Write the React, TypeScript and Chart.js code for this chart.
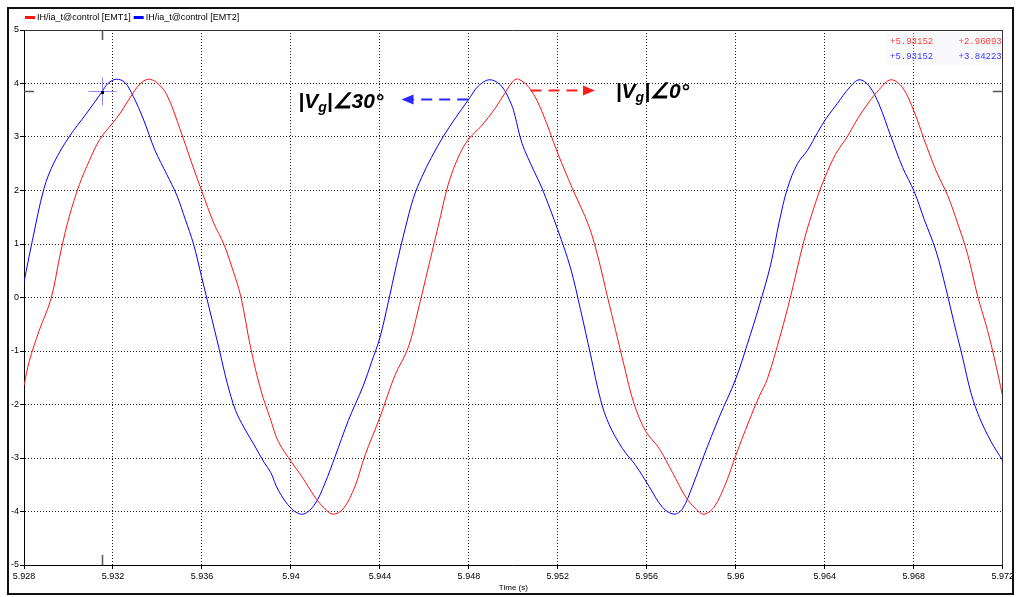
import React, { useEffect, useRef } from "react";
import { Chart, registerables } from "chart.js";

Chart.register(...registerables);

const SERIES_LABELS = ["IH/ia_t@control [EMT1]", "IH/ia_t@control [EMT2]"];
const SERIES_COLORS = ["rgb(255,20,20)", "rgb(0,0,255)"];

const X_TICKS = [5.928, 5.932, 5.936, 5.94, 5.944, 5.948, 5.952, 5.956, 5.96, 5.964, 5.968, 5.972];
const Y_TICKS = [-5, -4, -3, -2, -1, 0, 1, 2, 3, 4, 5];
const X_TITLE = "Time (s)";

const RED_T = [
  5.928, 5.92823, 5.92868, 5.92921, 5.92966, 5.93004, 5.93049, 5.93094, 5.9314, 5.932,
  5.9323, 5.93276, 5.93321, 5.93359, 5.93396, 5.93442, 5.93502, 5.93555, 5.936, 5.93653,
  5.93698, 5.93736, 5.93774, 5.93819, 5.93864, 5.9391, 5.93943, 5.94003, 5.94048, 5.94108,
  5.94153, 5.9419, 5.94235, 5.94288, 5.94333, 5.944, 5.94467, 5.94527, 5.94572, 5.94617,
  5.94662, 5.94707, 5.94752, 5.94797, 5.94857, 5.94917, 5.94962, 5.95, 5.95024, 5.95077,
  5.95129, 5.952, 5.95265, 5.9534, 5.95385, 5.95422, 5.9546, 5.95497, 5.95542, 5.95595,
  5.95655, 5.95715, 5.95775, 5.9582, 5.95857, 5.95902, 5.95955, 5.96, 5.9606, 5.96105,
  5.96142, 5.96202, 5.96247, 5.96307, 5.96359, 5.964, 5.9645, 5.96502, 5.96547, 5.966,
  5.96645, 5.96697, 5.9675, 5.96802, 5.96847, 5.969, 5.96952, 5.96997, 5.97042, 5.97087,
  5.97132, 5.97162, 5.972,
];
const RED_V = [
  -1.65, -1.2, -0.62, -0.03, 0.87, 1.52, 2.11, 2.56, 2.95, 3.27,
  3.43, 3.73, 3.99, 4.08, 4.02, 3.79, 3.14, 2.5, 1.98, 1.39,
  1.0, 0.55, 0.03, -0.94, -1.72, -2.3, -2.69, -3.08, -3.34, -3.73,
  -3.95, -4.05, -3.95, -3.53, -2.95, -2.24, -1.46, -0.94, -0.23, 0.55,
  1.33, 2.11, 2.62, 2.95, 3.21, 3.53, 3.82, 4.05, 4.08, 3.89,
  3.47, 2.69, 2.04, 1.33, 0.68, 0.03, -0.62, -1.26, -1.98, -2.5,
  -2.82, -3.27, -3.73, -3.95, -4.05, -3.92, -3.47, -2.95, -2.3, -1.85,
  -1.52, -0.68, 0.03, 1.07, 1.78, 2.24, 2.69, 3.01, 3.34, 3.66,
  3.89, 4.07, 3.92, 3.47, 2.95, 2.37, 1.91, 1.39, 0.81, 0.03,
  -0.62, -1.13, -1.85,
];

const BLUE_T = [
  5.928, 5.92838, 5.9289, 5.92936, 5.93004, 5.93079, 5.9315, 5.93177, 5.93215, 5.93253,
  5.93291, 5.93336, 5.93389, 5.93442, 5.93487, 5.93525, 5.93562, 5.936, 5.93638, 5.93676,
  5.93713, 5.93751, 5.93789, 5.93834, 5.93879, 5.93909, 5.93943, 5.94003, 5.94055, 5.94108,
  5.94153, 5.94198, 5.94258, 5.94325, 5.94363, 5.944, 5.94437, 5.94475, 5.94512, 5.9455,
  5.94587, 5.94632, 5.94685, 5.94737, 5.94797, 5.94842, 5.94894, 5.94947, 5.94992, 5.95007,
  5.95039, 5.95092, 5.95129, 5.952, 5.95257, 5.95302, 5.95347, 5.95392, 5.9543, 5.9549,
  5.9555, 5.9561, 5.9567, 5.95722, 5.9576, 5.95805, 5.95857, 5.95925, 5.96, 5.96052,
  5.96105, 5.96157, 5.96194, 5.96232, 5.96277, 5.96322, 5.96367, 5.96405, 5.96457, 5.9651,
  5.96555, 5.966, 5.96645, 5.96697, 5.9675, 5.96802, 5.96847, 5.969, 5.96945, 5.96982,
  5.9702, 5.97057, 5.97095, 5.97147, 5.972,
];
const BLUE_V = [
  0.29, 1.07, 2.04, 2.53, 3.01, 3.43, 3.84, 4.0, 4.08, 4.02,
  3.76, 3.34, 2.75, 2.3, 1.91, 1.46, 1.0, 0.36, -0.29, -0.94,
  -1.59, -2.11, -2.43, -2.75, -3.08, -3.27, -3.6, -3.95, -4.05, -3.86,
  -3.47, -2.98, -2.3, -1.65, -1.2, -0.75, -0.1, 0.62, 1.26, 1.85,
  2.24, 2.62, 3.01, 3.34, 3.69, 3.95, 4.07, 3.95, 3.6, 3.4,
  2.88, 2.37, 2.04, 1.26, 0.55, -0.23, -1.07, -1.91, -2.37, -2.82,
  -3.14, -3.53, -3.92, -4.05, -3.95, -3.53, -2.95, -2.24, -1.52, -0.87,
  -0.16, 0.62, 1.39, 2.04, 2.5, 2.75, 3.08, 3.34, 3.63, 3.92,
  4.07, 3.95, 3.6, 3.01, 2.43, 1.98, 1.46, 0.87, 0.16, -0.49,
  -1.13, -1.78, -2.24, -2.69, -3.05,
];

const CURSOR_T = 5.93152;
const CURSOR_VALUES = [2.96093, 3.84223];
const READOUT_T = "+5.93152";
const READOUT_V = ["+2.96093", "+3.84223"];

const ANNOT_BLUE_TEXT = ["|V", "g", "|\u222030\u00B0"];
const ANNOT_RED_TEXT = ["|V", "g", "|\u22200\u00B0"];
const ANNOT_BLUE_POS = { t: 5.94033, v: 3.55 };
const ANNOT_RED_POS = { t: 5.9546, v: 3.73 };
const ARROW_BLUE = { from: 5.94797, to: 5.94497, v: 3.7 };
const ARROW_RED = { from: 5.95077, to: 5.95367, v: 3.87 };

const FONT = '"Liberation Sans", Arial, sans-serif';

function toPoints(ts: number[], vs: number[]) {
  return ts.map((t, i) => ({ x: t, y: vs[i] }));
}

const extrasPlugin = {
  id: "extras",
  afterDraw(chart: any) {
    const { ctx, chartArea: ca, scales } = chart;
    const xs = scales.x;
    const ys = scales.y;
    const al = (p: number) => Math.round(p - 0.5) + 0.5;
    ctx.save();

    // plot top and right borders
    ctx.strokeStyle = "#333";
    ctx.lineWidth = 1;
    ctx.setLineDash([]);
    ctx.beginPath();
    ctx.moveTo(al(ca.left), al(ca.top));
    ctx.lineTo(al(ca.right), al(ca.top));
    ctx.lineTo(al(ca.right), al(ca.bottom));
    ctx.stroke();

    // outer frame
    ctx.strokeStyle = "#111";
    ctx.lineWidth = 2;
    ctx.strokeRect(8, 8, 1005, 586);

    // legend
    ctx.font = `9px ${FONT}`;
    ctx.textBaseline = "middle";
    ctx.textAlign = "left";
    let lx = 25;
    SERIES_LABELS.forEach((lab, i) => {
      ctx.fillStyle = SERIES_COLORS[i];
      ctx.fillRect(lx, 16, 10, 3);
      ctx.fillStyle = "#000";
      ctx.fillText(lab, lx + 12, 18);
      lx += 12 + ctx.measureText(lab).width + 3;
    });

    // readout box
    ctx.fillStyle = "rgba(235,235,242,0.3)";
    ctx.fillRect(886, 32, ca.right - 887, 33);
    ctx.font = `9px "Liberation Mono", "DejaVu Sans Mono", monospace`;
    ctx.textBaseline = "middle";
    READOUT_V.forEach((val, i) => {
      ctx.fillStyle = i === 0 ? "rgb(255,60,60)" : "rgb(60,60,255)";
      ctx.textAlign = "left";
      ctx.fillText(READOUT_T, 890, 42 + i * 15);
      ctx.textAlign = "right";
      ctx.fillText(val, ca.right - 1, 42 + i * 15);
    });

    // cursor
    const cx = xs.getPixelForValue(CURSOR_T);
    const cy = ys.getPixelForValue(CURSOR_VALUES[1]);
    ctx.strokeStyle = "#555";
    ctx.lineWidth = 1.5;
    ctx.beginPath();
    ctx.moveTo(al(cx), ca.top);
    ctx.lineTo(al(cx), ca.top + 10);
    ctx.moveTo(al(cx), ca.bottom - 10);
    ctx.lineTo(al(cx), ca.bottom);
    ctx.moveTo(ca.left, al(cy));
    ctx.lineTo(ca.left + 10, al(cy));
    ctx.moveTo(ca.right - 10, al(cy));
    ctx.lineTo(ca.right, al(cy));
    ctx.stroke();
    ctx.strokeStyle = "rgba(100,100,255,0.75)";
    ctx.lineWidth = 1;
    ctx.beginPath();
    ctx.moveTo(al(cx) - 14, al(cy));
    ctx.lineTo(al(cx) + 14, al(cy));
    ctx.moveTo(al(cx), al(cy) - 14);
    ctx.lineTo(al(cx), al(cy) + 14);
    ctx.stroke();
    ctx.fillStyle = "#000";
    ctx.fillRect(Math.round(cx) - 1, Math.round(cy) - 1, 3, 3);

    // annotations text
    const drawVg = (parts: string[], t: number, v: number) => {
      let px = xs.getPixelForValue(t);
      const py = ys.getPixelForValue(v);
      ctx.fillStyle = "#000";
      ctx.textAlign = "left";
      ctx.textBaseline = "alphabetic";
      ctx.font = `italic bold 21px ${FONT}`;
      ctx.fillText(parts[0], px, py);
      px += ctx.measureText(parts[0]).width;
      ctx.font = `italic bold 14px ${FONT}`;
      ctx.fillText(parts[1], px, py + 4);
      px += ctx.measureText(parts[1]).width;
      ctx.font = `italic bold 21px ${FONT}`;
      ctx.fillText(parts[2], px, py);
    };
    drawVg(ANNOT_BLUE_TEXT, ANNOT_BLUE_POS.t, ANNOT_BLUE_POS.v);
    drawVg(ANNOT_RED_TEXT, ANNOT_RED_POS.t, ANNOT_RED_POS.v);

    // arrows
    const drawArrow = (a: { from: number; to: number; v: number }, color: string) => {
      const x1 = xs.getPixelForValue(a.from);
      const x2 = xs.getPixelForValue(a.to);
      const y = ys.getPixelForValue(a.v);
      const dir = x2 > x1 ? 1 : -1;
      const headLen = 12;
      ctx.strokeStyle = color;
      ctx.fillStyle = color;
      ctx.lineWidth = 2;
      ctx.setLineDash([11, 7]);
      ctx.beginPath();
      ctx.moveTo(x1, y);
      ctx.lineTo(x2 - dir * headLen, y);
      ctx.stroke();
      ctx.setLineDash([]);
      ctx.beginPath();
      ctx.moveTo(x2, y);
      ctx.lineTo(x2 - dir * headLen, y - 5);
      ctx.lineTo(x2 - dir * headLen, y + 5);
      ctx.closePath();
      ctx.fill();
    };
    drawArrow(ARROW_BLUE, "rgb(40,40,255)");
    drawArrow(ARROW_RED, "rgb(255,30,30)");

    ctx.restore();
  },
};

export default function App() {
  const ref = useRef<HTMLCanvasElement>(null);
  useEffect(() => {
    if (!ref.current) return;
    const chart = new Chart(ref.current, {
      type: "line",
      data: {
        datasets: [
          {
            label: SERIES_LABELS[0],
            data: toPoints(RED_T, RED_V),
            borderColor: SERIES_COLORS[0],
            backgroundColor: SERIES_COLORS[0],
            borderWidth: 1,
            pointRadius: 0,
            tension: 0.35,
          },
          {
            label: SERIES_LABELS[1],
            data: toPoints(BLUE_T, BLUE_V),
            borderColor: SERIES_COLORS[1],
            backgroundColor: SERIES_COLORS[1],
            borderWidth: 1,
            pointRadius: 0,
            tension: 0.35,
          },
        ],
      },
      options: {
        responsive: false,
        animation: false,
        devicePixelRatio: 1,
        parsing: false,
        layout: { padding: { left: 8, right: 12, top: 30, bottom: 4 } },
        plugins: { legend: { display: false }, tooltip: { enabled: false } },
        scales: {
          x: {
            type: "linear",
            min: 5.928,
            max: 5.972,
            afterBuildTicks: (s: any) => {
              s.ticks = X_TICKS.map((v) => ({ value: v }));
            },
            afterFit: (s: any) => {
              s.height = 28;
            },
            ticks: {
              autoSkip: false,
              maxRotation: 0,
              padding: 2,
              color: "#000",
              font: { family: FONT, size: 9 },
              callback: (v: any) => String(Number(Number(v).toFixed(3))),
            },
            grid: {
              color: "#222",
              lineWidth: 1,
              tickLength: 4,
              tickColor: "#000",
              tickBorderDash: [],
            },
            border: { display: true, color: "#000", width: 1, dash: [1, 2] },
            title: {
              display: true,
              text: X_TITLE,
              color: "#000",
              font: { family: FONT, size: 8 },
              padding: { top: 0, bottom: 0 },
            },
          },
          y: {
            type: "linear",
            min: -5,
            max: 5,
            afterBuildTicks: (s: any) => {
              s.ticks = Y_TICKS.map((v) => ({ value: v }));
            },
            afterFit: (s: any) => {
              s.width = 16;
            },
            ticks: {
              padding: 1,
              color: "#000",
              font: { family: FONT, size: 9 },
              callback: (v: any) => String(v),
            },
            grid: {
              color: "#222",
              lineWidth: 1,
              tickLength: 4,
              tickColor: "#000",
              tickBorderDash: [],
            },
            border: { display: true, color: "#000", width: 1, dash: [1, 2] },
          },
        },
      },
      plugins: [extrasPlugin],
    } as any);
    return () => chart.destroy();
  }, []);
  return (
    <div style={{ position: "fixed", left: 0, top: 0, width: 1016, height: 597, background: "#fff" }}>
      <canvas ref={ref} width={1016} height={597} style={{ display: "block", width: 1016, height: 597 }} />
    </div>
  );
}
